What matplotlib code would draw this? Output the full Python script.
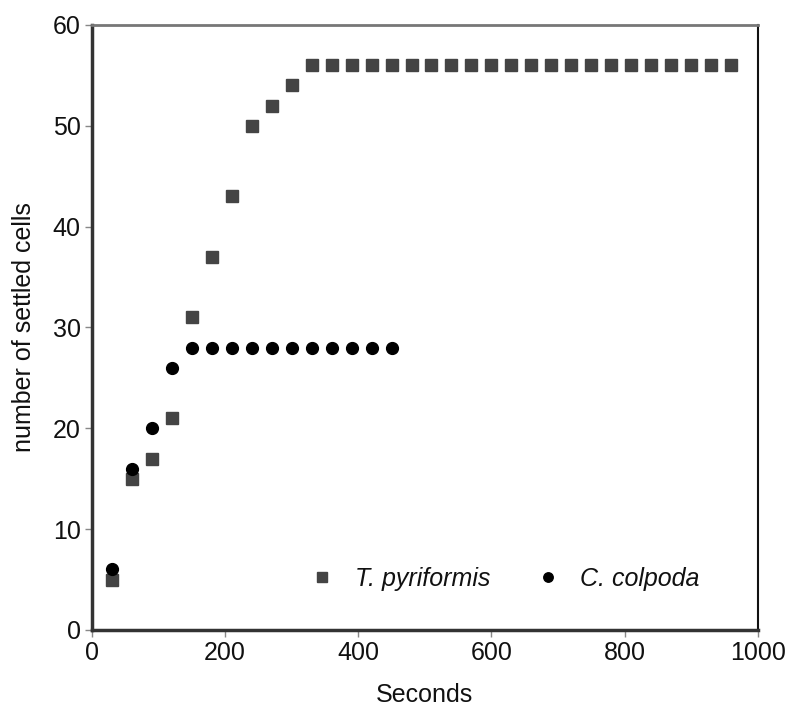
import matplotlib.pyplot as plt
import numpy as np

plt.rcParams['font.family'] = ['Liberation Sans', 'DejaVu Sans']

# T. pyriformis (squares)
t_sec = [30, 60, 90, 120, 150, 180, 210, 240, 270, 300] + list(range(330, 961, 30))
t_cells = [5, 15, 17, 21, 31, 37, 43, 50, 52, 54] + [56] * 22

# C. colpoda (circles)
c_sec = [30, 60, 90, 120] + list(range(150, 451, 30))
c_cells = [6, 16, 20, 26] + [28] * 11

fig = plt.figure(figsize=(7.86, 7.11), dpi=100)
ax = fig.add_axes([0.117, 0.114, 0.847, 0.851])

ax.plot(t_sec, t_cells, 's', color='#444444', markersize=9, linestyle='none',
        label='T. pyriformis')
ax.plot(c_sec, c_cells, 'o', color='black', markersize=8.5, linestyle='none',
        label='C. colpoda')

ax.set_xlim(0, 1000)
ax.set_ylim(0, 60)
ax.set_xticks([0, 200, 400, 600, 800, 1000])
ax.set_yticks([0, 10, 20, 30, 40, 50, 60])
ax.tick_params(labelsize=18, length=5, width=1, color='#888888', direction='out',
               pad=3, labelcolor='#111111')

for side in ['left', 'bottom']:
    ax.spines[side].set_linewidth(2.5)
    ax.spines[side].set_color('#333333')
ax.spines['top'].set_linewidth(2)
ax.spines['top'].set_color('#777777')
ax.spines['right'].set_linewidth(1.5)
ax.spines['right'].set_color('#111111')

ax.set_xlabel('Seconds', fontsize=18, labelpad=13, color='#111111')
ax.set_ylabel('number of settled cells', fontsize=18, labelpad=12, color='#111111')

leg = ax.legend(ncol=2, frameon=False, loc='center', bbox_to_anchor=(0.62, 0.084),
                fontsize=18, handlelength=1.0, handletextpad=0.8,
                columnspacing=1.8, markerscale=0.8)
for txt in leg.get_texts():
    txt.set_fontstyle('italic')
    txt.set_color('#111111')

fig.savefig('out.png', dpi=100)
